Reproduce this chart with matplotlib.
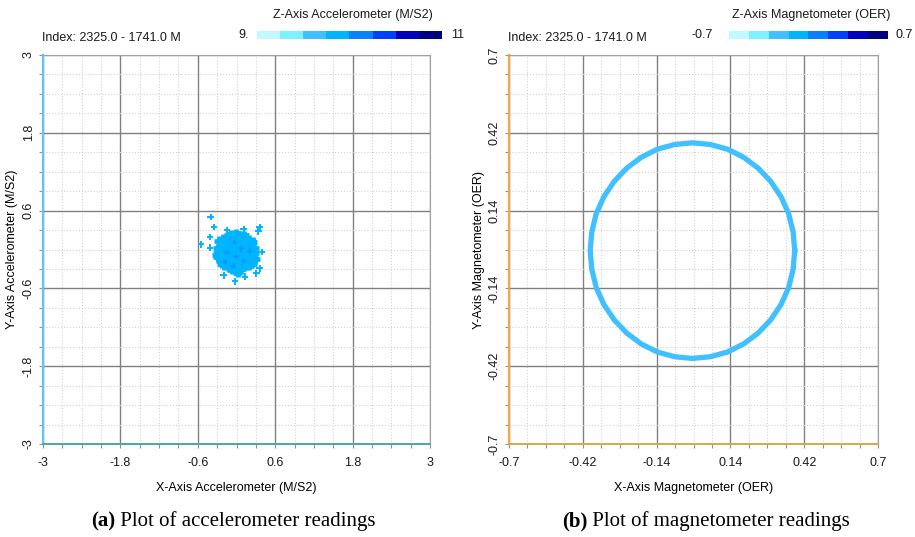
import numpy as np
import matplotlib.pyplot as plt
from matplotlib.colors import ListedColormap, Normalize
from matplotlib.ticker import MultipleLocator, FixedLocator

plt.rcParams['font.family'] = ['Liberation Sans', 'DejaVu Sans']

# accelerometer readings (M/S2): dense core + scattered outliers
acc_core_x = [-0.08, -0.01, 0.06,
              -0.21, -0.14, -0.07, 0.00, 0.07, 0.14, 0.19,
              -0.25, -0.18, -0.11, -0.04, 0.03, 0.10, 0.17, 0.23,
              -0.29, -0.22, -0.15, -0.08, -0.01, 0.06, 0.13, 0.20, 0.27,
              -0.29, -0.22, -0.15, -0.08, -0.01, 0.06, 0.13, 0.20, 0.27,
              -0.29, -0.22, -0.15, -0.08, -0.01, 0.06, 0.13, 0.20, 0.26,
              -0.25, -0.18, -0.11, -0.04, 0.03, 0.10, 0.17, 0.22,
              -0.20, -0.13, -0.06, 0.01, 0.08, 0.14, 0.19,
              -0.07, 0.00, 0.07,
              -0.27, 0.25, -0.30, 0.29, -0.23, 0.24, -0.12, 0.12, 0.02]
acc_core_y = [0.23, 0.25, 0.22,
              0.16, 0.18, 0.17, 0.19, 0.16, 0.18, 0.15,
              0.09, 0.11, 0.10, 0.12, 0.09, 0.11, 0.10, 0.08,
              0.02, 0.04, 0.03, 0.01, 0.04, 0.02, 0.03, 0.05, 0.02,
              -0.05, -0.03, -0.04, -0.06, -0.03, -0.05, -0.04, -0.02, -0.05,
              -0.12, -0.10, -0.11, -0.13, -0.10, -0.12, -0.11, -0.09, -0.12,
              -0.17, -0.19, -0.18, -0.16, -0.19, -0.17, -0.18, -0.20,
              -0.24, -0.26, -0.25, -0.23, -0.26, -0.24, -0.25,
              -0.31, -0.33, -0.30,
              0.13, 0.12, -0.08, -0.15, -0.22, -0.22, 0.22, 0.22, -0.36]
acc_core_z = [9.85] * 72
# a few readings from the next Z level show as darker specks
acc_dark_x = [-0.04, 0.06, -0.15, 0.20, -0.01, -0.18, 0.10, -0.06]
acc_dark_y = [0.12, 0.02, -0.04, -0.02, -0.10, -0.19, -0.17, -0.25]
acc_dark_z = [10.1] * 8

acc_out_x = [-0.40, -0.35, -0.41, -0.55, -0.41, 0.36, 0.34, 0.39,
             0.36, 0.31, 0.13, -0.02, -0.20, -0.15, 0.11]
acc_out_y = [0.50, 0.35, 0.19, 0.08, 0.03, 0.34, 0.28, -0.04,
             -0.29, -0.37, -0.42, -0.49, -0.40, 0.30, 0.31]
acc_out_z = [9.85] * 15

# magnetometer readings (OER) tracing the calibration ring
mag_x = [0.384, 0.378, 0.361, 0.332, 0.293, 0.245, 0.190, 0.129, 0.063,
         -0.004, -0.071, -0.137, -0.198, -0.253, -0.301, -0.340, -0.369, -0.386,
         -0.392, -0.386, -0.369, -0.340, -0.301, -0.253, -0.198, -0.137, -0.071,
         -0.004, 0.063, 0.129, 0.190, 0.245, 0.293, 0.332, 0.361, 0.378]
mag_y = [-0.004, 0.063, 0.129, 0.190, 0.245, 0.293, 0.332, 0.361, 0.378,
         0.384, 0.378, 0.361, 0.332, 0.293, 0.245, 0.190, 0.129, 0.063,
         -0.004, -0.071, -0.137, -0.198, -0.253, -0.301, -0.340, -0.369, -0.386,
         -0.392, -0.386, -0.369, -0.340, -0.301, -0.253, -0.198, -0.137, -0.071]
mag_z = -0.25

acc_ticks = [-3, -1.8, -0.6, 0.6, 1.8, 3]
acc_ticklabels = ['-3', '-1.8', '-0.6', '0.6', '1.8', '3']
mag_ticks = [-0.7, -0.42, -0.14, 0.14, 0.42, 0.7]
mag_ticklabels = ['-0.7', '-0.42', '-0.14', '0.14', '0.42', '0.7']

level_colors = ['#c2f8ff', '#80f0ff', '#40c0ff', '#00b4ff',
                '#0a80ff', '#0040ff', '#0000c0', '#000080']
cmap = ListedColormap(level_colors)

W, H = 915, 537
FS = 9
fig = plt.figure(figsize=(W / 100, H / 100), dpi=100)


def px(x0, y0, x1, y1):
    return [x0 / W, 1 - y1 / H, (x1 - x0) / W, (y1 - y0) / H]


def style_axes(ax, ticks, labels, minor, left_col, bottom_col):
    lim = (ticks[0], ticks[-1])
    ax.set_xlim(lim)
    ax.set_ylim(lim)
    ax.xaxis.set_major_locator(FixedLocator(ticks))
    ax.yaxis.set_major_locator(FixedLocator(ticks))
    ax.set_xticklabels(labels)
    ax.set_yticklabels(labels, rotation=90, va='center')
    ax.xaxis.set_minor_locator(MultipleLocator(minor))
    ax.yaxis.set_minor_locator(MultipleLocator(minor))
    ax.grid(which='major', color='#808080', lw=1.0)
    ax.grid(which='minor', color='#d2d2d2', lw=0.8, ls=':')
    ax.set_axisbelow(True)
    ax.tick_params(which='both', colors='#909090', labelcolor='#1a1a1a',
                   labelsize=FS, length=3, width=0.8)
    ax.tick_params(axis='x', pad=6)
    ax.tick_params(axis='y', pad=3)
    ax.spines['top'].set_color('#a0a0a0')
    ax.spines['right'].set_color('#a0a0a0')
    ax.spines['left'].set_color(left_col)
    ax.spines['left'].set_linewidth(1.6)
    ax.spines['bottom'].set_color(bottom_col)
    ax.spines['bottom'].set_linewidth(1.4)


def add_header(x_index, cb_box, lo, hi, lo_x, hi_x, title):
    fig.text(x_index / W, 1 - 38 / H, 'Index: 2325.0 - 1741.0 M',
             fontsize=FS, va='center', color='#1a1a1a')
    cax = fig.add_axes(px(*cb_box))
    cax.imshow(np.arange(len(level_colors))[None, :], cmap=cmap,
               aspect='auto')
    cax.axis('off')
    fig.text(lo_x / W, 1 - 35 / H, lo, fontsize=FS, ha='right',
             va='center', color='#1a1a1a')
    fig.text(hi_x / W, 1 - 35 / H, hi, fontsize=FS, ha='left',
             va='center', color='#1a1a1a')
    fig.text((cb_box[0] + cb_box[2]) / 2 / W + 3 / W, 1 - 15 / H, title,
             fontsize=FS, ha='center', va='center', color='#1a1a1a')


def add_caption(x0, tag, text):
    t = fig.text(x0 / W, 1 - 531 / H, tag, fontsize=15, weight='bold',
                 family='Liberation Serif', va='bottom')
    plt.annotate(text, xy=(1, 0), xycoords=t, va='bottom', ha='left',
                 fontsize=15, family='Liberation Serif')


# (a) accelerometer
ax1 = fig.add_axes(px(43, 55, 430, 444))
style_axes(ax1, acc_ticks, acc_ticklabels, 0.3, '#5cc8f0', '#4aa8a8')
norm_a = Normalize(9, 11)
ax1.scatter(acc_out_x, acc_out_y, c=acc_out_z, cmap=cmap, norm=norm_a,
            marker='+', s=22, linewidths=1.4)
ax1.scatter(acc_core_x, acc_core_y, c=acc_core_z, cmap=cmap, norm=norm_a,
            marker='+', s=45, linewidths=3.4)
ax1.scatter(acc_dark_x, acc_dark_y, c=acc_dark_z, cmap=cmap, norm=norm_a,
            marker='+', s=12, linewidths=1.0, alpha=0.7)
ax1.set_xlabel('X-Axis Accelerometer (M/S2)', fontsize=FS, labelpad=10)
ax1.set_ylabel('Y-Axis Accelerometer (M/S2)', fontsize=FS, labelpad=3)
add_header(42, (257, 31, 442, 39), '9.', '11', 249, 451,
           'Z-Axis Accelerometer (M/S2)')
add_caption(91, '(a)', ' Plot of accelerometer readings')

# (b) magnetometer
ax2 = fig.add_axes(px(509, 55, 878, 444))
style_axes(ax2, mag_ticks, mag_ticklabels, 0.07, '#f0a848', '#d8a848')
norm_m = Normalize(-0.7, 0.7)
ax2.plot(mag_x + mag_x[:1], mag_y + mag_y[:1], color=cmap(norm_m(mag_z)),
         lw=3.8, solid_joinstyle='round')
ax2.set_xlabel('X-Axis Magnetometer (OER)', fontsize=FS, labelpad=10)
ax2.set_ylabel('Y-Axis Magnetometer (OER)', fontsize=FS, labelpad=3)
add_header(508, (729, 31, 888, 39), '-0.7', '0.7', 713, 895,
           'Z-Axis Magnetometer (OER)')
add_caption(562, '(b)', ' Plot of magnetometer readings')

fig.savefig('out.png', dpi=100)
